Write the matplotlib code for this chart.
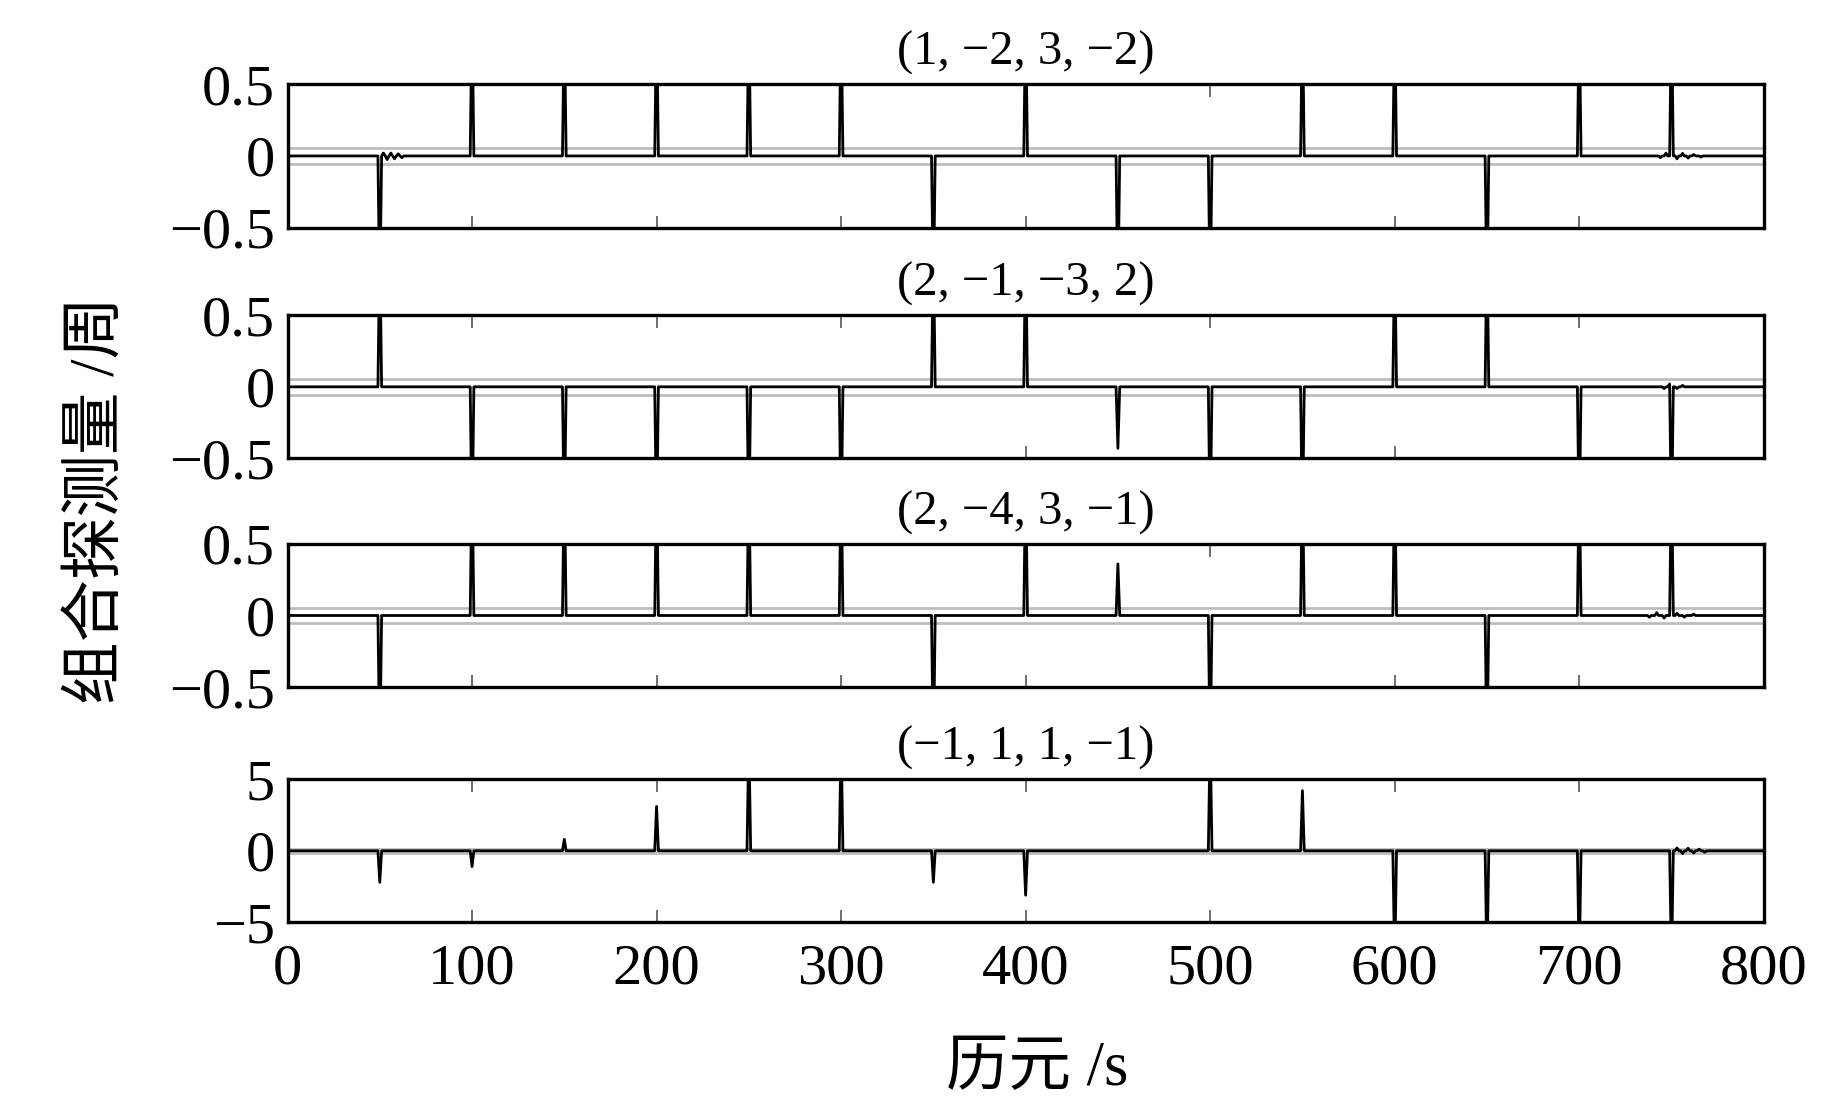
import numpy as np
import matplotlib.pyplot as plt

# epochs sampled every second
epoch_end = 800
spike_t = [50, 100, 150, 200, 250, 300, 350, 400, 450, 500, 550, 600, 650, 700, 750]

titles = ['(1, −2, 3, −2)', '(2, −1, −3, 2)', '(2, −4, 3, −1)', '(−1, 1, 1, −1)']

# spike heights (values past the axis limit are clipped)
p1_spikes = [-1, 1, 1, 1, 1, 1, -1, 1, -1, -1, 1, 1, -1, 1, 1]
p2_spikes = [1, -1, -1, -1, -1, -1, 1, 1, -0.43, -1, -1, 1, 1, -1, -1]
p3_spikes = [-1, 1, 1, 1, 1, 1, -1, 1, 0.36, -1, 1, 1, -1, 1, 1]
p4_spikes = [-2.2, -1.1, 0.8, 3.1, 8, 8, -2.2, -3.1, 0, 8, 4.2, -8, -8, -8, -8]

# small visible ripples around the zero line
p1_ripple_t = [52, 54, 56, 58, 60, 62, 744, 747, 753, 756, 759, 762, 766]
p1_ripple_v = [0.02, -0.025, 0.02, -0.02, 0.015, -0.012, -0.012, 0.02, -0.02, 0.018, -0.015, 0.01, -0.008]
p2_ripple_t = [746, 749, 753, 756]
p2_ripple_v = [-0.012, 0.02, -0.012, 0.01]
p3_ripple_t = [738, 742, 746, 753, 757, 762]
p3_ripple_v = [-0.012, 0.02, -0.018, 0.015, -0.012, 0.01]
p4_ripple_t = [753, 756, 759, 762, 765, 768]
p4_ripple_v = [0.2, -0.2, 0.18, -0.15, 0.12, -0.1]

ylims = [0.5, 0.5, 0.5, 5]
yticks = [[-0.5, 0, 0.5], [-0.5, 0, 0.5], [-0.5, 0, 0.5], [-5, 0, 5]]
yticklabels = [['−0.5', '0', '0.5']] * 3 + [['−5', '0', '5']]
thresholds = [0.055, 0.055, 0.055, 0.15]

spikes = [p1_spikes, p2_spikes, p3_spikes, p4_spikes]
ripples = [(p1_ripple_t, p1_ripple_v), (p2_ripple_t, p2_ripple_v),
           (p3_ripple_t, p3_ripple_v), (p4_ripple_t, p4_ripple_v)]

plt.rcParams['font.family'] = ['Liberation Serif', 'Noto Sans CJK SC']
plt.rcParams['axes.unicode_minus'] = True

fig = plt.figure(figsize=(18.43, 11.10), dpi=100)

left, width = 0.156, 0.801
tops = [0.924, 0.716, 0.510, 0.298]
h = 0.129

t = np.arange(0, epoch_end + 1)
for i in range(4):
    ax = fig.add_axes([left, tops[i] - h, width, h])
    y = np.zeros(len(t))
    rt, rv = ripples[i]
    y[rt] = rv
    y[spike_t] = spikes[i]
    ax.axhline(thresholds[i], color='#bdbdbd', lw=2, zorder=1)
    ax.axhline(-thresholds[i], color='#bdbdbd', lw=2, zorder=1)
    ax.plot(t, y, color='black', lw=2.0, zorder=3)
    ax.set_xlim(0, epoch_end)
    ax.set_ylim(-ylims[i], ylims[i])
    ax.set_yticks(yticks[i])
    ax.set_yticklabels(yticklabels[i])
    ax.set_xticks(range(0, 801, 100))
    ax.tick_params(axis='x', direction='in', top=True, bottom=True, length=9,
                   width=1.2, color='#555555', labelsize=42, pad=15)
    ax.tick_params(axis='y', length=0, labelsize=42, pad=9)
    if i < 3:
        ax.set_xticklabels([])
    for s in ax.spines.values():
        s.set_linewidth(2.4)
    ax.set_title(titles[i], fontsize=35, pad=14)

fig.text(0.563, 0.036, '历元 /s', fontsize=45, ha='center', va='center')
fig.text(0.054, 0.55, '组合探测量 /周', fontsize=45, ha='center', va='center',
         rotation=90)

fig.savefig('out.png', dpi=100)
